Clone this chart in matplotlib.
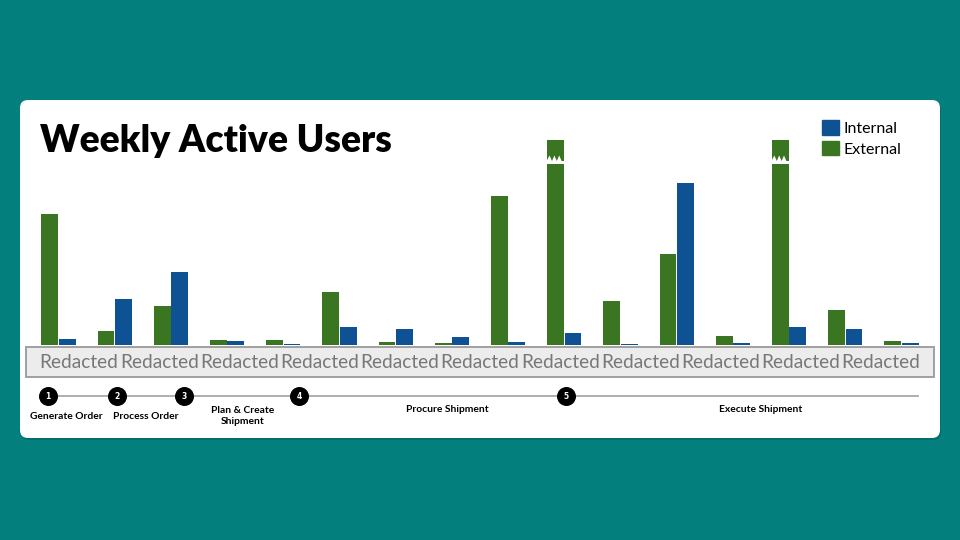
import matplotlib.pyplot as plt
import numpy as np
from matplotlib.patches import FancyBboxPatch, Rectangle, Polygon, Patch

# weekly active users per step (arbitrary units, no axis shown)
internal = [6, 46, 73, 4, 1, 18, 16, 8, 3, 12, 1, 162, 2, 18, 16, 2]
external = [131, 14, 39, 5, 5, 53, 3, 2, 149, 260, 44, 91, 9, 260, 35, 4]
y_max = 205  # bars above this are cut with a break mark

redacted = ['Redacted'] * 11
step_nums = ['1', '2', '3', '4', '5']
step_names = ['Generate Order', 'Process Order', 'Plan & Create\nShipment',
              'Procure Shipment', 'Execute Shipment']

teal = '#037f7e'
green = '#3a7521'
blue = '#0e5294'

fig = plt.figure(figsize=(9.6, 5.4), dpi=100)
fig.patch.set_facecolor(teal)

# background card, pixel coords
bg = fig.add_axes([0, 0, 1, 1], zorder=0)
bg.set_xlim(0, 960)
bg.set_ylim(540, 0)
bg.axis('off')
bg.add_patch(FancyBboxPatch((21, 102), 920, 338, boxstyle='round,pad=0,rounding_size=8',
                            fc='#026463', ec='none', alpha=0.6))
bg.add_patch(FancyBboxPatch((20, 100), 920, 338, boxstyle='round,pad=0,rounding_size=8',
                            fc='white', ec='none'))

# bars
ax = fig.add_axes([30.4 / 960, (540 - 345) / 540, 899.2 / 960, 205 / 540], zorder=1)
ax.patch.set_alpha(0)
x = np.arange(len(internal))
w = 0.3
ext_bars = ax.bar(x - 0.155, external, w, color=green, label='External')
int_bars = ax.bar(x + 0.155, internal, w, color=blue, label='Internal')
ax.set_xlim(-0.5, len(internal) - 0.5)
ax.set_ylim(0, y_max)
ax.axis('off')

# break marks on the bars that run off the top
for i, v in enumerate(external):
    if v > y_max:
        left = i - 0.155 - w / 2
        xs = np.linspace(left, left + w, 8)
        top = [184 if k % 2 == 0 else 189.5 for k in range(8)]
        pts = [(left - 0.01, 181), (left - 0.01, 184)]
        pts += [(xx, yy) for xx, yy in zip(xs[1:-1], top[1:-1])]
        pts += [(left + w + 0.01, 184), (left + w + 0.01, 181)]
        ax.add_patch(Polygon(pts, closed=True, fc='white', ec='none', zorder=3))

ax.legend(handles=[Patch(color=blue, label='Internal'), Patch(color=green, label='External')],
          loc='upper left', bbox_to_anchor=(822 / 960, 1 - 120 / 540),
          bbox_transform=fig.transFigure, frameon=False,
          handlelength=1.05, handleheight=1.05, labelspacing=0.3,
          handletextpad=0.3, borderpad=0, borderaxespad=0,
          prop={'family': 'Lato', 'size': 11.5})

# overlay: title, redacted band, timeline
top = fig.add_axes([0, 0, 1, 1], zorder=2)
top.set_xlim(0, 960)
top.set_ylim(540, 0)
top.axis('off')

top.text(40, 151.5, 'Weekly Active Users', fontsize=26.8, fontweight='heavy',
         family='Lato', color='black', va='baseline', ha='left')

top.add_patch(Rectangle((26, 347), 908, 30, fc='#ececec', ec='#9a9a9a', lw=1.3))
for k, word in enumerate(redacted):
    top.text(79 + 80.2 * k, 362.5, word, fontsize=13.8, family='Lato',
             color='#787878', ha='center', va='center')

top.plot([48, 918], [396, 396], color='#a8a8a8', lw=1.3)
circle_x = [48, 117, 184, 299, 566]
for cx, num in zip(circle_x, step_nums):
    top.scatter([cx], [396], s=160, color='black', zorder=3)
    top.text(cx, 396.5, num, color='white', fontsize=5.5, fontweight='bold',
             ha='center', va='center', zorder=4)

label_xy = [(66, 416.5), (146, 416.5), (243, 416), (447, 410), (761, 410)]
for (lx, ly), name in zip(label_xy, step_names):
    top.text(lx, ly, name, fontsize=7.4, fontweight='bold', family='Lato',
             ha='center', va='center', linespacing=1.15, color='black')

fig.savefig('out.png', dpi=100, facecolor=fig.get_facecolor())
